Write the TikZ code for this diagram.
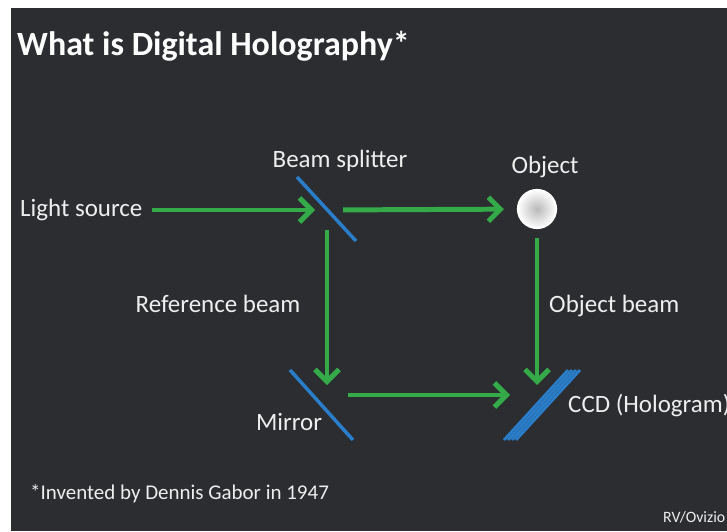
\documentclass[tikz,border=0pt]{standalone}
\usepackage{fontspec}
\setmainfont{Carlito}
\usetikzlibrary{arrows.meta}
\definecolor{slide}{RGB}{43,45,49}
\definecolor{beamgreen}{RGB}{52,170,72}
\definecolor{optblue}{RGB}{42,125,200}
\definecolor{txt}{RGB}{238,238,238}
\begin{document}
\begin{tikzpicture}[x=0.03cm,y=-0.03cm,
  lbl/.style={text=txt,font=\fontsize{21.3}{24}\selectfont,inner sep=0pt},
  beam/.style={beamgreen,line width=4.25pt,-{Straight Barb[length=0.36cm,width=0.72cm]}},
  optic/.style={optblue,line width=3pt}]
\useasboundingbox (0,0) rectangle (727,531);
\fill[white] (0,0) rectangle (727,531);
\fill[slide] (11,8) rectangle (727,531);

\node (title) at (17,55) [anchor=base west,inner sep=0pt,text=white,font=\bfseries\fontsize{29}{32}\selectfont]{What is Digital Holography*};

\node (ls) at (20,210) [lbl,anchor=west]{Light source};
\node (bslbl) at (340,167) [lbl,anchor=base]{Beam splitter};
\node (objlbl) at (545,173) [lbl,anchor=base]{Object};
\node (reflbl) at (218,312) [lbl,anchor=base]{Reference beam};
\node (objbeamlbl) at (549,312) [lbl,anchor=base west]{Object beam};
\node (mrlbl) at (289,430) [lbl,anchor=base]{Mirror};
\node (ccdlbl) at (568,412) [lbl,anchor=base west]{CCD (Hologram)};
\node (note) at (30,499) [anchor=base west,inner sep=0pt,text=txt,font=\fontsize{17.9}{20}\selectfont]{*Invented by Dennis Gabor in 1947};
\node (credit) at (663,522) [anchor=base west,inner sep=0pt,text=txt,font=\fontsize{13.5}{15}\selectfont]{RV/Ovizio};

\coordinate (bs) at (327,210);
\coordinate (mr) at (327,395);
\coordinate (cd) at (537,395);
\node (obj) at (537,209) [circle,minimum size=1.17cm,inner sep=0pt,draw=white,line width=1pt,inner color=gray!55,outer color=white]{};

\draw[optic] (297,177) -- (356,241);
\draw[optic] (290,370) -- (353,440);
\foreach \i in {0,...,3}
  \draw[optic,line width=2.4pt] (504+4*\i,440) -- (568+4*\i,370);

\draw[beam,shorten <=0.27cm,shorten >=0.36cm] (ls.east) -- (bs);
\draw[beam,shorten <=0.48cm,shorten >=0.39cm] (bs) -- (obj);
\draw[beam,shorten <=0.6cm,shorten >=0.3cm] (bs) -- (mr);
\draw[beam,shorten <=0.63cm,shorten >=0.81cm] (mr) -- (cd);
\draw[beam,shorten <=0.27cm,shorten >=0.3cm] (obj) -- (cd);
\end{tikzpicture}
\end{document}
